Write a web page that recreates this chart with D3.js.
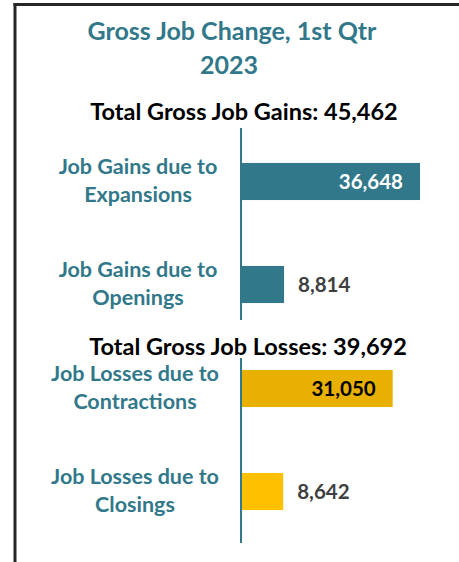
<!DOCTYPE html>
<html>
<meta charset="utf-8">
<title>Gross Job Change, 1st Qtr 2023</title>
<script src="https://d3js.org/d3.v7.min.js" charset="utf-8"></script>
<style>
	body { margin: 0; background: #fff; }
	svg text { font-family: Lato, "Open Sans", sans-serif; font-weight: bold; }
	.title { fill: #31788a; }
	.total { fill: #000; }
	.label { fill: #31788a; }
</style>
<body>
<script>

	// data
	var titleLines = ["Gross Job Change, 1st Qtr", "2023"];
	var gainLabels = [["Job Gains due to", "Expansions"], ["Job Gains due to", "Openings"]];
	var gainValues = [36648, 8814];
	var lossLabels = [["Job Losses due to", "Contractions"], ["Job Losses due to", "Closings"]];
	var lossValues = [31050, 8642];
	var totalGains = 45462, totalLosses = 39692;

	var width = 459, height = 562;
	var fmt = d3.format(",");

	var svg = d3.select("body").append("svg")
		.attr("width", width)
		.attr("height", height);

	// frame, only top and left edges are visible
	svg.append("line").attr("x1", 13.5).attr("x2", width).attr("y1", 4.5).attr("y2", 4.5)
		.attr("stroke", "#262626").attr("stroke-width", 3);
	svg.append("line").attr("x1", 15).attr("x2", 15).attr("y1", 3).attr("y2", height)
		.attr("stroke", "#262626").attr("stroke-width", 3);

	svg.selectAll(".title")
		.data(titleLines)
		.enter().append("text")
		.attr("class", "title")
		.attr("x", function(d, i) { return i ? 229 : 232; })
		.attr("y", function(d, i) { return 40 + i * 34; })
		.attr("text-anchor", "middle")
		.style("font-size", "25px")
		.text(function(d) { return d; });

	// one shared value scale so both panels compare
	var x = d3.scaleLinear().domain([0, 40000]).range([241, 436.4]);

	var panels = [
		{ labels: gainLabels, values: gainValues, total: "Total Gross Job Gains: " + fmt(totalGains),
		  totalY: 120, band: [130, 336], axis: [128, 320], labelX: 138,
		  colors: ["#31788a", "#31788a"], inside: ["#fff", "#fff"] },
		{ labels: lossLabels, values: lossValues, total: "Total Gross Job Losses: " + fmt(totalLosses),
		  totalY: 355, band: [337, 543], axis: [358, 543], labelX: 135,
		  colors: ["#e8b000", "#ffc000"], inside: ["#000", "#000"] }
	];

	panels.forEach(function(p, k) {
		var y = d3.scaleBand()
			.domain(d3.range(p.values.length))
			.range(p.band)
			.paddingInner(0.64)
			.paddingOuter(0.32);

		var g = svg.append("g");

		g.append("text")
			.attr("class", "total")
			.attr("x", k ? 248 : 244)
			.attr("y", p.totalY)
			.attr("text-anchor", "middle")
			.style("font-size", "23.5px")
			.text(p.total);

		g.selectAll(".bar")
			.data(p.values)
			.enter().append("rect")
			.attr("class", "bar")
			.attr("x", x(0))
			.attr("y", function(d, i) { return y(i); })
			.attr("width", function(d) { return x(d) - x(0); })
			.attr("height", y.bandwidth())
			.attr("fill", function(d, i) { return p.colors[i]; });

		// long bars get the number inside, short ones beside
		g.selectAll(".value")
			.data(p.values)
			.enter().append("text")
			.attr("class", "value")
			.attr("x", function(d) { return d > 20000 ? x(d) - 17 : x(d) + 14; })
			.attr("y", function(d, i) { return y(i) + y.bandwidth() / 2 + 7.5; })
			.attr("text-anchor", function(d) { return d > 20000 ? "end" : "start"; })
			.attr("fill", function(d, i) { return d > 20000 ? p.inside[i] : "#404040"; })
			.style("font-size", "20.5px")
			.text(function(d) { return fmt(d); });

		var lab = g.selectAll(".label")
			.data(p.labels)
			.enter().append("text")
			.attr("class", "label")
			.attr("text-anchor", "middle")
			.style("font-size", "21.5px");

		lab.selectAll("tspan")
			.data(function(d, i) { return d.map(function(s, j) { return { s: s, i: i, j: j }; }); })
			.enter().append("tspan")
			.attr("x", p.labelX)
			.attr("y", function(d) { return y(d.i) + y.bandwidth() / 2 - 7.5 + d.j * 28; })
			.text(function(d) { return d.s; });

		g.append("line")
			.attr("x1", x(0)).attr("x2", x(0))
			.attr("y1", p.axis[0]).attr("y2", p.axis[1])
			.attr("stroke", "#31788a")
			.attr("stroke-width", 2);
	});

</script>
</body>
</html>
